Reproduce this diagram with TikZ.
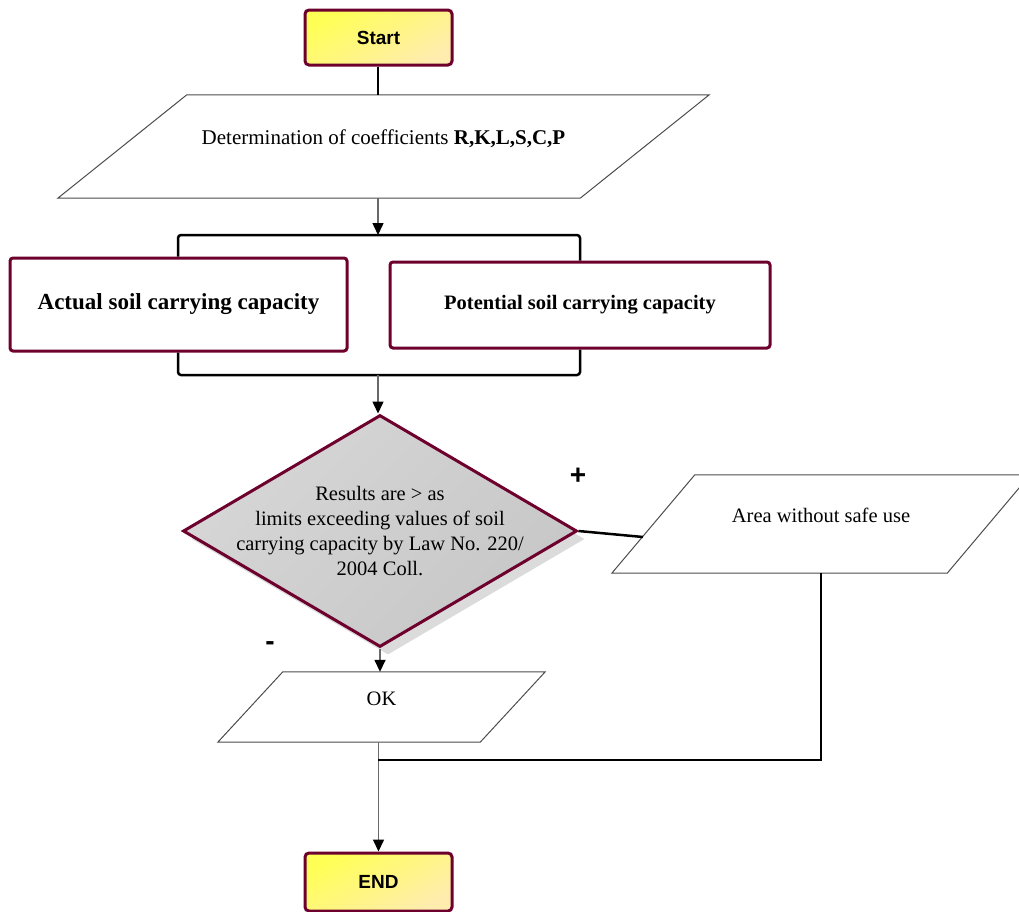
\documentclass[tikz,border=0pt]{standalone}
\usepackage{fontspec}
\setmainfont{Liberation Serif}
\setsansfont{Liberation Sans}
\usepackage{tikz}
\usetikzlibrary{arrows.meta}
\usetikzlibrary{shapes.geometric}
\usetikzlibrary{shadows}
\usetikzlibrary{calc}

\definecolor{edgered}{RGB}{110,0,45}
\definecolor{termA}{RGB}{255,255,85}
\definecolor{termB}{RGB}{255,226,222}
\definecolor{linegray}{RGB}{105,105,105}

\tikzset{
  term/.style={rectangle,rounded corners=4pt,draw=edgered,line width=3pt,left color=termA,middle color=termA!90!termB,right color=termA!35!termB,shading angle=30,minimum width=147pt,minimum height=55pt,font=\sffamily\bfseries\fontsize{19}{22}\selectfont},
  capbox/.style={rectangle,rounded corners=3pt,draw=edgered,line width=3pt,fill=white},
  iobox/.style={rectangle,inner sep=0pt,text height=15pt,text depth=19pt,font=\fontsize{20.5}{25}\selectfont},
  ioline/.style={draw=black!70,line width=1pt},
  decbox/.style={diamond,draw=edgered,line width=3pt,left color=gray!32,right color=gray!44,shading angle=45,aspect=1.7,inner xsep=-40pt,inner ysep=0pt,minimum width=394pt,minimum height=232pt,align=center,font=\fontsize{20.5}{25}\selectfont,drop shadow={shadow xshift=8pt,shadow yshift=-8pt,fill=gray!28,opacity=1}},
  heavy/.style={draw=black,line width=2.5pt},
  arr/.style={draw=linegray,line width=1.5pt,-{Triangle[length=12pt,width=11pt,color=black]}},
  sign/.style={font=\sffamily\bfseries\fontsize{28}{30}\selectfont}
}

\begin{document}
\begin{tikzpicture}[x=1pt,y=-1pt]
	\useasboundingbox (0,0) rectangle (1019,911);
	\clip (0,0) rectangle (1019,911);
	\node[term] (start) at (378.5,37.5) {Start};
	\node[iobox,minimum width=522pt,minimum height=103pt,font=\fontsize{21}{25}\selectfont] (coef) at (383.5,146.5) {Determination of coefficients \textbf{R,K,L,S,C,P}};
	\draw[ioline] ($(coef.south west)+(-64.5,0)$)--($(coef.north west)+(64.5,0)$)--($(coef.north east)+(64.5,0)$)--($(coef.south east)+(-64.5,0)$)--cycle;
	\draw[heavy] (start.south -| 378,0)--(coef.north -| 378,0);
	\coordinate (splitL) at (178,235);
	\coordinate (splitM) at (378,235);
	\coordinate (splitR) at (580,235);
	\coordinate (joinL) at (178,375);
	\coordinate (joinM) at (378,375);
	\coordinate (joinR) at (580,375);
	\node[capbox,minimum width=337pt,minimum height=93pt,font=\bfseries\fontsize{23}{26}\selectfont] (actual) at (178.5,304.5) {Actual soil carrying capacity};
	\node[capbox,minimum width=380pt,minimum height=86pt,font=\bfseries\fontsize{20.5}{24}\selectfont] (potential) at (580,305) {Potential soil carrying capacity};
	\draw[arr] (coef.south -| splitM)--(splitM);
	\draw[heavy,rounded corners=3pt] (actual.north -| splitL)--(splitL)--(splitR)--(potential.north -| splitR);
	\draw[heavy,rounded corners=3pt] (actual.south -| joinL)--(joinL)--(joinR)--(potential.south -| joinR);
	\node[decbox] (dec) at (380,531) {Results are > as\\limits exceeding values of soil\\carrying capacity by Law No. 220/\\2004 Coll.};
	\draw[arr] (joinM)--(joinM |- dec.north);
	\node[iobox,minimum width=335pt,minimum height=98pt] (area) at (821,524) {Area without safe use};
	\draw[ioline] ($(area.south west)+(-41.5,0)$)--($(area.north west)+(41.5,0)$)--($(area.north east)+(41.5,0)$)--($(area.south east)+(-41.5,0)$)--cycle;
	\coordinate (areaIn) at (643,537);
	\draw[heavy] (dec.east)--(areaIn);
	\node[sign] (plus) at (578,476) {+};
	\node[sign] (minus) at (270,646) {-};
	\node[iobox,minimum width=262pt,minimum height=70pt] (ok) at (381.5,707) {OK};
	\draw[ioline] ($(ok.south west)+(-32.5,0)$)--($(ok.north west)+(32.5,0)$)--($(ok.north east)+(32.5,0)$)--($(ok.south east)+(-32.5,0)$)--cycle;
	\draw[arr] (dec.south)--(dec.south |- ok.north);
	\node[term,minimum height=58pt] (finish) at (378.5,882) {END};
	\coordinate (merge) at (378,760);
	\draw[arr] (ok.south -| finish.north)--(finish.north);
	\draw[heavy] (area.south) |- (merge);
\end{tikzpicture}
\end{document}
